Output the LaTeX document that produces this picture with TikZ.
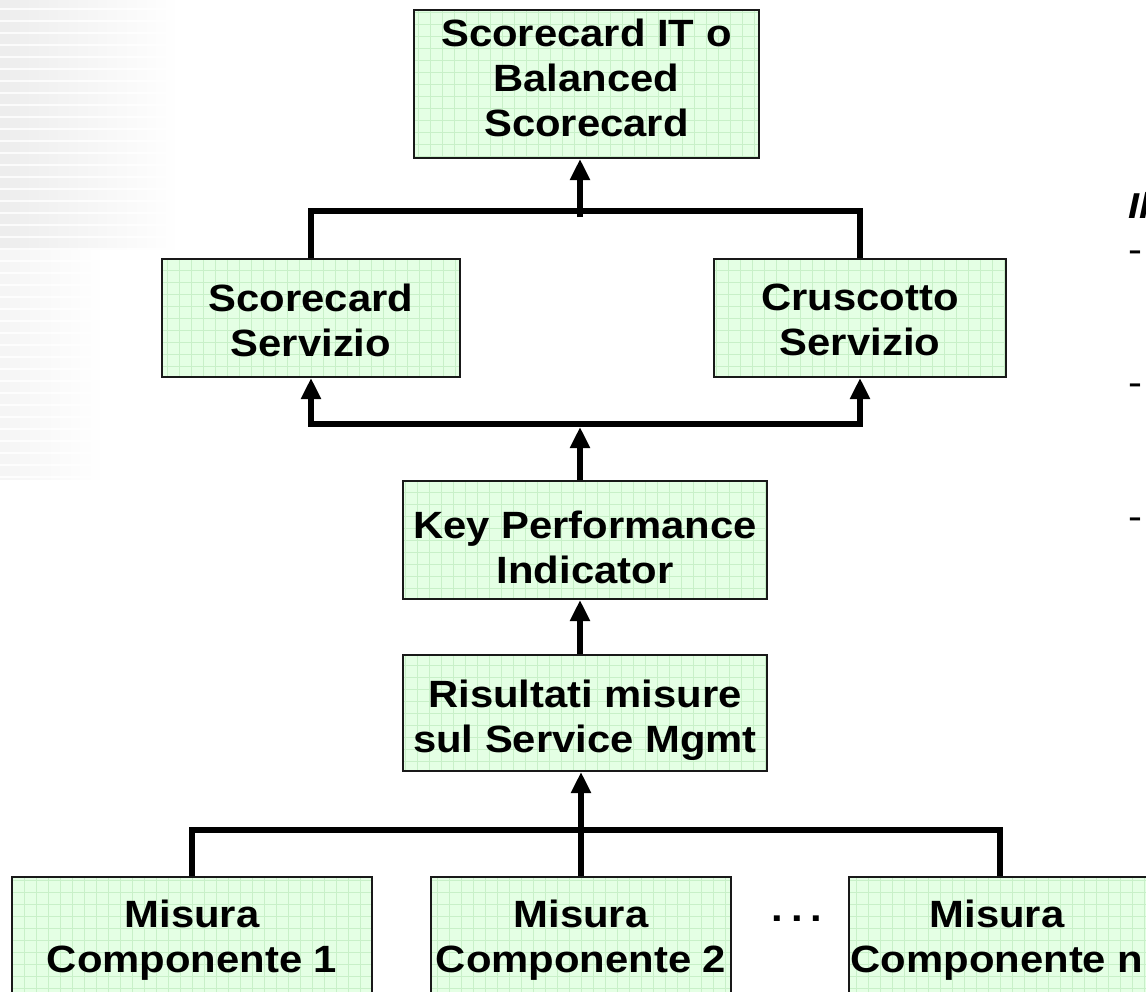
\documentclass[tikz,border=0pt]{standalone}
\usepackage{fontspec}
\setmainfont{Liberation Sans}[FakeStretch=1.1]
\usetikzlibrary{arrows.meta,fadings}

\definecolor{boxfill}{RGB}{228,255,228}
\definecolor{boxgrid}{RGB}{200,240,200}
\definecolor{boxedge}{RGB}{25,25,25}

\tikzset{
  stage/.style={rectangle, draw=boxedge, line width=1pt, fill=boxfill,
    inner sep=0pt,
    path picture={\draw[boxgrid, line width=0.4pt, step=6pt]
      (path picture bounding box.south west) grid
      (path picture bounding box.north east);}},
  caption/.style={inner sep=0pt, align=center,
    font=\fontsize{19}{22.5}\selectfont\bfseries},
  link/.style={line width=3pt, line cap=butt, line join=miter},
  feed/.style={link, -{Triangle[width=9.5pt,length=10.5pt]}},
  sidetext/.style={anchor=west, inner sep=0pt, font=\fontsize{19}{22.5}\selectfont},
}

\begin{document}
\begin{tikzpicture}[x=0.5pt,y=-0.5pt]
\useasboundingbox (0,0) rectangle (1146,991);
\fill[white] (0,0) rectangle (1146,991);

% faint striped template decoration, top left
\fill[black!7, path fading=east] (0,0) rectangle (175,250);
\fill[black!4, path fading=east] (0,250) rectangle (100,480);
\foreach \k in {0,...,39}
  \fill[white, opacity=0.8] (0,12*\k+8) rectangle (180,12*\k+10);

% boxes
\node[stage, minimum width=172.5pt, minimum height=74pt] (top) at (586.5,84) {};
\node[stage, minimum width=149pt, minimum height=59pt] (ss) at (311,318) {};
\node[stage, minimum width=146pt, minimum height=59pt] (cs) at (860,318) {};
\node[stage, minimum width=182pt, minimum height=59pt] (kpi) at (585,540) {};
\node[stage, minimum width=182pt, minimum height=58pt] (ris) at (585,713) {};
\node[stage, minimum width=180pt, minimum height=63pt] (m1) at (192,940) {};
\node[stage, minimum width=150pt, minimum height=63pt] (m2) at (581,940) {};
\node[stage, minimum width=151pt, minimum height=63pt] (m3) at (1000,940) {};

% box texts
\node[caption] (top-t) at ([yshift=3pt]top.center) {Scorecard IT o\\Balanced\\Scorecard};
\node[caption] (ss-t) at ([yshift=-1pt]ss.center) {Scorecard\\Servizio};
\node[caption] (cs-t) at ([yshift=-1pt]cs.center) {Cruscotto\\Servizio};
\node[caption] (kpi-t) at ([yshift=-3.5pt]kpi.center) {Key Performance\\Indicator};
\node[caption] (ris-t) at ([yshift=-3.5pt]ris.center) {Risultati misure\\sul Service Mgmt};
\node[caption] (m1-t) at (m1.center) {Misura\\Componente 1};
\node[caption] (m2-t) at (m2.center) {Misura\\Componente 2};
\node[caption] (m3-t) at ([xshift=-1.5pt]m3.center) {Misura\\Componente n};
\node[caption] (gap) at (797,919) {.\kern4pt.\kern4pt.};

% bus junctions
\coordinate (j1) at (580,211);
\coordinate (j2) at (580,424);
\coordinate (j3) at (580,830);

% connectors
\draw[link] (ss.north) |- (j1) -| (cs.north);
\draw[feed] ([yshift=-3pt]j1) -- (j1 |- top.south);

\draw[feed] (j2) -| (ss.south);
\draw[feed] (j2) -| (cs.south);
\draw[feed] (j2 |- kpi.north) -- ([yshift=-1.5pt]j2);

\draw[feed] (j2 |- ris.north) -- (j2 |- kpi.south);

\draw[link] (m1.north) |- (j3) -| (m3.north);
\draw[feed] (m2.north) -- (m2.north |- ris.south);

% side notes running off the right edge
\node[sidetext, font=\fontsize{18}{22.5}\selectfont\bfseries\itshape] (note) at (1128,205) {Il};
\node[sidetext] (dash1) at (1128,257) {-};
\node[sidetext] (dash2) at (1128,390) {-};
\node[sidetext] (dash3) at (1128,524) {-};
\end{tikzpicture}
\end{document}
